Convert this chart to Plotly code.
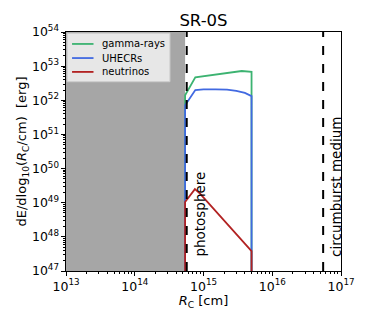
import plotly.graph_objects as go

# radius grid (cm) and energies (erg)
r_gamma = [5.4e14, 5.4e14, 7.6e14, 3.6e15, 5.0e15, 5.0e15]
e_gamma = [1e40, 1.4e52, 4.7e52, 7.2e52, 6.8e52, 1e40]

r_uhecr = [5.4e14, 5.4e14, 7.6e14, 1.0e15, 1.5e15, 2.2e15, 3.0e15, 4.0e15, 5.0e15, 5.0e15]
e_uhecr = [1e40, 7.2e51, 2.0e52, 2.1e52, 2.1e52, 2.05e52, 1.9e52, 1.65e52, 1.32e52, 1e40]

r_nu = [5.4e14, 5.4e14, 7.5e14, 8.9e14, 5.0e15, 5.0e15]
e_nu = [1e40, 1.05e49, 2.5e49, 1.85e49, 3.8e47, 1e40]

names = ["gamma-rays", "UHECRs", "neutrinos"]
colors = ["#3cb371", "#4169e1", "#b22222"]

r_photosphere = 5.7e14
r_csm = 5.5e16
r_shade = 5.4e14

fig = go.Figure()
for xs, ys, nm, c in zip([r_gamma, r_uhecr, r_nu], [e_gamma, e_uhecr, e_nu], names, colors):
    fig.add_trace(go.Scatter(x=xs, y=ys, mode="lines", name=nm, showlegend=False,
                             line=dict(color=c, width=1.8)))

# shaded region inside photosphere
fig.add_shape(type="rect", xref="x", yref="paper", x0=1e13, x1=r_shade, y0=0, y1=1,
              fillcolor="#a6a6a6", line_width=0, layer="below")
for xv in [r_photosphere, r_csm]:
    fig.add_shape(type="line", xref="x", yref="paper", x0=xv, x1=xv, y0=0, y1=1,
                  line=dict(color="black", width=2, dash="dash"))

fig.add_annotation(x=14.79, y=0.05, xref="x", yref="paper", text="photosphere",
                   textangle=-90, showarrow=False, xanchor="left", yanchor="bottom",
                   font=dict(size=13.5, color="black"))
fig.add_annotation(x=16.78, y=0.05, xref="x", yref="paper", text="circumburst medium",
                   textangle=-90, showarrow=False, xanchor="left", yanchor="bottom",
                   font=dict(size=13.5, color="black"))

# matplotlib-style legend box (compact rows)
fig.add_shape(type="rect", xref="paper", yref="paper", x0=0.004, x1=0.378, y0=0.792, y1=0.995,
              fillcolor="rgba(238,238,238,0.9)", line=dict(color="#cccccc", width=1))
leg_y = [0.950, 0.891, 0.833]
for nm, c, ly in zip(names, colors, leg_y):
    fig.add_shape(type="line", xref="paper", yref="paper", x0=0.022, x1=0.10, y0=ly, y1=ly,
                  line=dict(color=c, width=1.8))
    fig.add_annotation(x=0.125, y=ly, xref="paper", yref="paper", text=nm, showarrow=False,
                       xanchor="left", yanchor="middle", font=dict(size=10, color="black"))

axis_common = dict(type="log", showgrid=False, zeroline=False, showline=True,
                   linecolor="black", linewidth=1, mirror=True, ticks="outside",
                   ticklen=4, tickcolor="black", dtick=1, exponentformat="power",
                   tickfont=dict(size=10, color="black"), automargin=False,
                   minor=dict(ticks="outside", ticklen=2, tickcolor="black", showgrid=False))

fig.update_xaxes(range=[13, 17], title=dict(text="<i>R</i><sub>C</sub> [cm]", font=dict(size=13), standoff=2),
                 **axis_common)
fig.update_yaxes(range=[47, 54], title=dict(text="dE/dlog<sub>10</sub>(<i>R</i><sub>C</sub>/cm)  [erg]",
                                            font=dict(size=13), standoff=2),
                 **axis_common)

# page body adds an 8px offset, margins compensate for it
fig.update_layout(
    width=366, height=325,
    margin=dict(l=58, r=33, t=24, b=62),
    paper_bgcolor="white", plot_bgcolor="white",
    font=dict(family="DejaVu Sans", color="black"),
    title=dict(text="SR-0S", x=0.5, xref="paper", xanchor="center", y=0.963, yanchor="middle",
               font=dict(size=16.5, color="black")),
    showlegend=False,
)

fig.write_html("out.html")
